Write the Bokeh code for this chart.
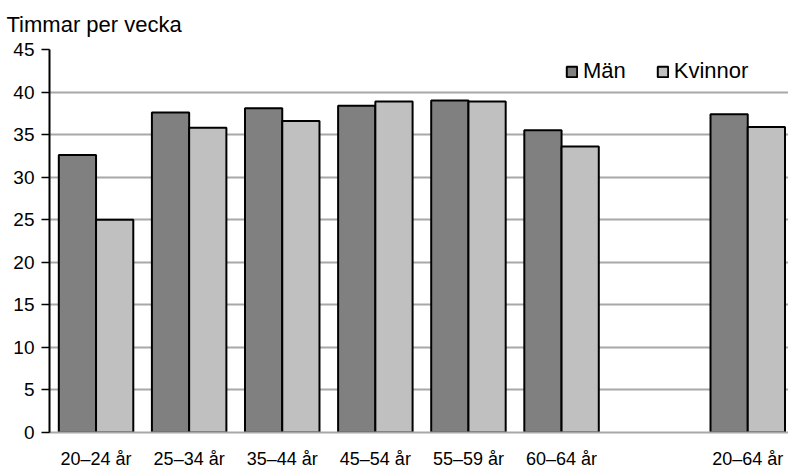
from bokeh.plotting import figure
from bokeh.models import Range1d, FixedTicker, ColumnDataSource, Legend, LegendItem
from bokeh.embed import file_html
from bokeh.resources import INLINE

categories = ["20–24 år", "25–34 år", "35–44 år", "45–54 år", "55–59 år", "60–64 år", "", "20–64 år"]
man = [32.6, 37.6, 38.1, 38.4, 39.0, 35.5, None, 37.4]
kvinnor = [25.0, 35.8, 36.6, 38.9, 38.9, 33.6, None, 35.9]
y_ticks = [0, 5, 10, 15, 20, 25, 30, 35, 40, 45]
title_text = "Timmar per vecka"

FONT = "Liberation Sans"
W, H = 788, 471
left, right, top, bottom = 49, 0, 48, 36
slot_px = 93.1
frame_w = W - left - right

idx = [i for i, c in enumerate(categories) if c != ""]
src_m = ColumnDataSource(dict(x=[i + 0.5 - 0.2 for i in idx], top=[man[i] for i in idx]))
src_k = ColumnDataSource(dict(x=[i + 0.5 + 0.2 for i in idx], top=[kvinnor[i] for i in idx]))

p = figure(width=W, height=H, output_backend="svg", toolbar_location=None,
           x_range=Range1d(0, frame_w / slot_px), y_range=Range1d(0, 45),
           min_border_left=left, min_border_right=right, min_border_top=top,
           min_border_bottom=bottom)
p.outline_line_color = None
p.background_fill_color = "white"
p.border_fill_color = "white"

p.title.text = title_text
p.title.text_font = FONT
p.title.text_font_size = "22px"
p.title.text_font_style = "normal"
p.title.text_color = "black"
p.title.align = "left"
p.title.vertical_align = "top"
p.title.offset = -43
p.title.standoff = 22

r_m = p.vbar(x="x", top="top", width=0.4, bottom=0, source=src_m,
             fill_color="#808080", line_color="black", line_width=2)
r_k = p.vbar(x="x", top="top", width=0.4, bottom=0, source=src_k,
             fill_color="#c0c0c0", line_color="black", line_width=2)

p.xgrid.grid_line_color = None
p.ygrid.grid_line_color = "#a8a8a8"
p.ygrid.grid_line_width = 2
p.yaxis.ticker = FixedTicker(ticks=y_ticks)
p.yaxis.axis_line_color = "black"
p.yaxis.axis_line_width = 2
p.yaxis.major_tick_line_color = "black"
p.yaxis.major_tick_line_width = 1.5
p.yaxis.major_tick_out = 8
p.yaxis.major_tick_in = 0
p.yaxis.minor_tick_line_color = None
p.yaxis.major_label_standoff = 7
p.yaxis.major_label_text_font = FONT
p.yaxis.major_label_text_font_size = "19px"
p.yaxis.major_label_text_color = "black"

p.xaxis.ticker = FixedTicker(ticks=[i + 0.5 for i in idx])
p.xaxis.major_label_overrides = {i + 0.5: categories[i] for i in idx}
p.xaxis.axis_line_color = "#a8a8a8"
p.xaxis.axis_line_width = 2
p.xaxis.major_tick_line_color = None
p.xaxis.minor_tick_line_color = None
p.xaxis.major_tick_out = 0
p.xaxis.major_tick_in = 0
p.xaxis.major_label_standoff = 16
p.xaxis.major_label_text_font = FONT
p.xaxis.major_label_text_font_size = "18px"
p.xaxis.major_label_text_color = "black"

legend = Legend(items=[LegendItem(label="Män", renderers=[r_m]),
                       LegendItem(label="Kvinnor", renderers=[r_k])],
                orientation="horizontal", location=(516, 348),
                padding=0, margin=0, spacing=30, label_standoff=5,
                glyph_width=13, glyph_height=13,
                border_line_color=None, background_fill_alpha=0,
                label_text_font=FONT, label_text_font_size="22px",
                label_text_color="black")
p.add_layout(legend, "center")

open("out.html", "w").write(file_html(p, INLINE))
